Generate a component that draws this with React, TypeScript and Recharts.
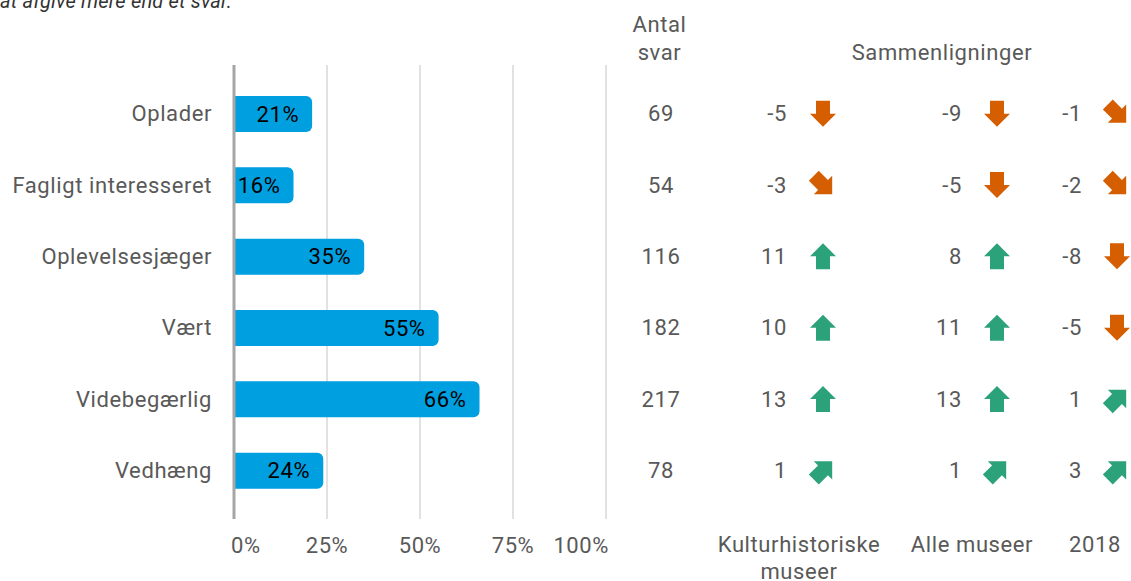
import { Bar, BarChart, CartesianGrid, LabelList, XAxis, YAxis } from 'recharts';

const categories = ['Oplader', 'Fagligt interesseret', 'Oplevelsesjæger', 'Vært', 'Videbegærlig', 'Vedhæng'];
const shares = [21, 16, 35, 55, 66, 24];
const counts = [69, 54, 116, 182, 217, 78];
const vsKultur = [-5, -3, 11, 10, 13, 1];
const vsAlle = [-9, -5, 8, 11, 13, 1];
const vs2018 = [-1, -2, -8, -5, 1, 3];
const pctTicks = [0, 25, 50, 75, 100];

const BLUE = '#009fe0';
const GREEN = '#2ba27a';
const ORANGE = '#d55e00';
const GRAY = '#595959';
const FS = 22;
const LS = 0.6;

const rows = categories.map((name, i) => ({ name, share: shares[i] }));

// big change = straight arrow, small change = diagonal arrow
function arrowAngle(v: number) {
  if (v >= 5) return 0;
  if (v > 0) return 45;
  if (v > -5) return 135;
  return 180;
}

function Arrow({ cx, cy, value }: { cx: number; cy: number; value: number }) {
  return (
    <path
      d="M0,-13 L13,0 L7,0 L7,13 L-7,13 L-7,0 L-13,0 Z"
      fill={value > 0 ? GREEN : ORANGE}
      transform={`translate(${cx},${cy}) rotate(${arrowAngle(value)})`}
    />
  );
}

const rowIndex = (props: any) => categories.indexOf(props.payload.value);

function CountTick(props: any) {
  const i = rowIndex(props);
  return (
    <text x={props.x + 55} y={props.y} dy="0.355em" textAnchor="middle" fill={GRAY} fontSize={FS} letterSpacing={LS}>
      {counts[i]}
    </text>
  );
}

function makeCompareTick(values: number[], valueDx: number, arrowDx: number) {
  return (props: any) => {
    const i = rowIndex(props);
    const v = values[i];
    return (
      <g>
        <text x={props.x + valueDx} y={props.y} dy="0.355em" textAnchor="end" fill={GRAY} fontSize={FS} letterSpacing={LS}>
          {v}
        </text>
        <Arrow cx={props.x + arrowDx} cy={props.y} value={v} />
      </g>
    );
  };
}

function PctTick(props: any) {
  const v = props.payload.value;
  let anchor: 'start' | 'middle' | 'end' = 'middle';
  let x = props.x;
  if (v === 0) {
    anchor = 'start';
    x -= 3;
  } else if (v === 100) {
    anchor = 'end';
    x += 3;
  }
  return (
    <text x={x} y={props.y} dy="0.71em" textAnchor={anchor} fill={GRAY} fontSize={FS} letterSpacing={LS}>
      {`${v}%`}
    </text>
  );
}

const pad = { top: 13, bottom: 13 };
const rightAxis = {
  orientation: 'right' as const,
  type: 'category' as const,
  dataKey: 'name',
  padding: pad,
  interval: 0,
  axisLine: false,
  tickLine: false,
  tickSize: 0,
  tickMargin: 0,
};

export default function App() {
  return (
    <div style={{ position: 'absolute', left: 0, top: 0, width: 1131, height: 581, fontFamily: 'Roboto', background: '#fff' }}>
      <BarChart
        width={1131}
        height={581}
        data={rows}
        layout="vertical"
        margin={{ top: 65, right: 0, bottom: 0, left: 0 }}
      >
        <CartesianGrid horizontal={false} stroke="#c4c4c4" />
        <XAxis
          type="number"
          domain={[0, 100]}
          ticks={pctTicks}
          height={62}
          axisLine={false}
          tickLine={false}
          tickSize={0}
          tickMargin={18}
          tick={PctTick}
          interval={0}
        />
        <YAxis
          type="category"
          dataKey="name"
          width={234}
          padding={pad}
          interval={0}
          tickLine={false}
          tickSize={0}
          tickMargin={22}
          axisLine={{ stroke: '#a6a6a6', strokeWidth: 3 }}
          tick={{ fill: GRAY, fontSize: FS, letterSpacing: LS }}
        />
        <YAxis yAxisId="r1" {...rightAxis} width={120} tick={CountTick} />
        <YAxis yAxisId="r2" {...rightAxis} width={150} tick={makeCompareTick(vsKultur, 61, 97)} />
        <YAxis yAxisId="r3" {...rightAxis} width={155} tick={makeCompareTick(vsAlle, 86, 121)} />
        <YAxis yAxisId="r4" {...rightAxis} width={100} tick={makeCompareTick(vs2018, 51, 86)} />
        <Bar dataKey="share" fill={BLUE} barSize={36} radius={[0, 6, 6, 0]} isAnimationActive={false}>
          <LabelList
            dataKey="share"
            position="insideRight"
            offset={13}
            fill="#000"
            fontSize={FS}
            letterSpacing={LS}
            formatter={(v: any) => `${v}%`}
          />
        </Bar>
      </BarChart>
      <svg
        width={1131}
        height={581}
        style={{ position: 'absolute', left: 0, top: 0, pointerEvents: 'none' }}
        fontFamily="Roboto"
        fontSize={FS}
        letterSpacing={LS}
      >
        <text x={232} y={8} textAnchor="end" fontStyle="italic" fill="#333" fontSize={20} letterSpacing={0.2}>
          Det var muligt at afgive mere end et svar.
        </text>
        <text x={659.5} y={32} textAnchor="middle" fill={GRAY}>Antal</text>
        <text x={659.5} y={60} textAnchor="middle" fill={GRAY}>svar</text>
        <text x={942} y={60} textAnchor="middle" fill={GRAY}>Sammenligninger</text>
        <text x={799} y={552} textAnchor="middle" fill={GRAY}>Kulturhistoriske</text>
        <text x={799} y={578.5} textAnchor="middle" fill={GRAY}>museer</text>
        <text x={972} y={552} textAnchor="middle" fill={GRAY}>Alle museer</text>
        <text x={1095} y={552} textAnchor="middle" fill={GRAY}>2018</text>
      </svg>
    </div>
  );
}
